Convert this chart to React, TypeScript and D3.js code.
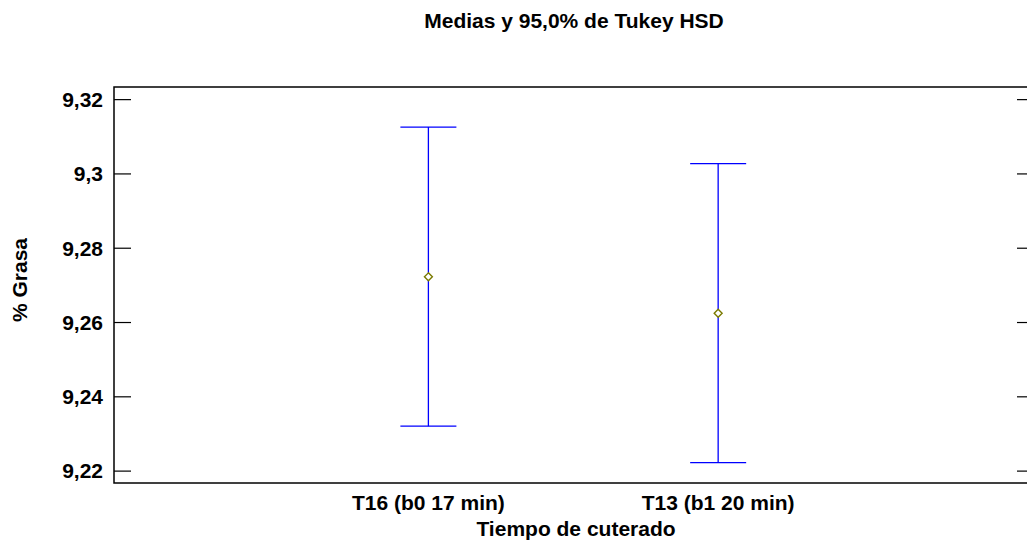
import * as d3 from "d3";

// Medias y intervalos HSD de Tukey (95,0%)
const categories = ["T16 (b0 17 min)", "T13 (b1 20 min)"];
const means = [9.2723, 9.2625];
const lower = [9.2321, 9.2223];
const upper = [9.3126, 9.3028];
const yTicks = [9.22, 9.24, 9.26, 9.28, 9.3, 9.32];

const W = 1027;
const H = 545;
const plot = { left: 114, top: 87, right: 1034, bottom: 483 };
const FONT = "'Liberation Sans', Arial, sans-serif";
const FS = 21;

export default function App() {
  const y = d3.scaleLinear().domain([9.2168, 9.3234]).range([plot.bottom, plot.top]);
  const x = d3.scaleLinear().domain([-0.085, 3.09]).range([plot.left, plot.right]);
  const fmt = (v: number) => d3.format("~g")(v).replace(".", ",");
  const capHalf = 28;
  const tickLen = 17;
  const diamond = d3.symbol(d3.symbolDiamond2, 40)() ?? "";

  return (
    <svg
      width={W}
      height={H}
      style={{ position: "absolute", left: 0, top: 0, background: "#fff" }}
      fontFamily={FONT}
      fontWeight="bold"
    >
      <text x={574} y={28} textAnchor="middle" fontSize={FS}>
        Medias y 95,0% de Tukey HSD
      </text>

      <rect
        x={plot.left}
        y={plot.top}
        width={plot.right - plot.left}
        height={plot.bottom - plot.top}
        fill="none"
        stroke="#000"
        strokeWidth={1.5}
      />

      {yTicks.map((t) => (
        <g key={t}>
          <line x1={plot.left} x2={plot.left + tickLen} y1={y(t)} y2={y(t)} stroke="#000" strokeWidth={1.2} />
          <line x1={plot.right - tickLen} x2={plot.right} y1={y(t)} y2={y(t)} stroke="#000" strokeWidth={1.2} />
          <text x={103} y={y(t)} dy="0.35em" textAnchor="end" fontSize={FS}>
            {fmt(t)}
          </text>
        </g>
      ))}

      {categories.map((c, i) => {
        const cx = x(i + 1);
        return (
          <g key={c}>
            <line x1={cx} x2={cx} y1={y(upper[i])} y2={y(lower[i])} stroke="#0000ff" strokeWidth={1.3} />
            <line x1={cx - capHalf} x2={cx + capHalf} y1={y(upper[i])} y2={y(upper[i])} stroke="#0000ff" strokeWidth={1.3} />
            <line x1={cx - capHalf} x2={cx + capHalf} y1={y(lower[i])} y2={y(lower[i])} stroke="#0000ff" strokeWidth={1.3} />
            <path
              d={diamond}
              transform={`translate(${cx},${y(means[i])})`}
              fill="#fff"
              stroke="#7a7a00"
              strokeWidth={1.4}
            />
            <text x={cx} y={510} textAnchor="middle" fontSize={FS}>
              {c}
            </text>
          </g>
        );
      })}

      <text x={576} y={536} textAnchor="middle" fontSize={FS}>
        Tiempo de cuterado
      </text>
      <text transform={`translate(27,280) rotate(-90)`} textAnchor="middle" fontSize={FS}>
        % Grasa
      </text>
    </svg>
  );
}
